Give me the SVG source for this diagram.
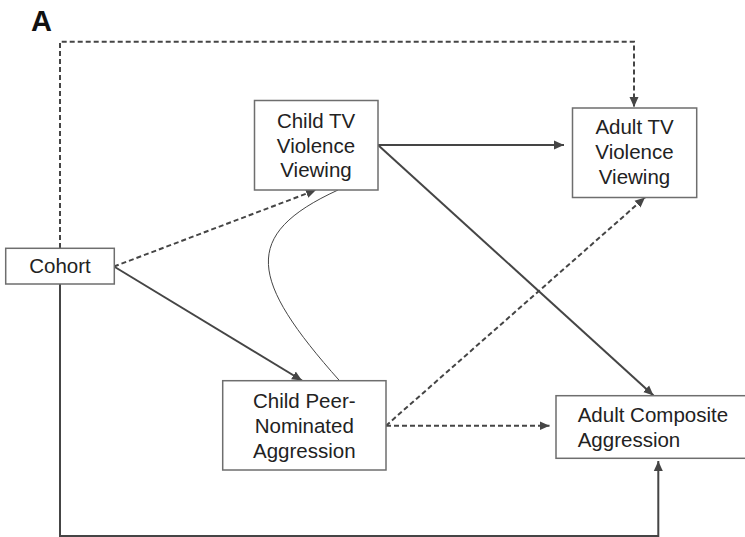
<svg xmlns="http://www.w3.org/2000/svg" width="745" height="537" viewBox="0 0 745 537">
<style>
.box{fill:#fff;stroke:#6e6e6e;stroke-width:1.5}
.t{font-family:"Liberation Sans",Arial,sans-serif;font-size:20.5px;fill:#222}
.c{text-anchor:middle}
.ln{fill:none;stroke:#454545;stroke-width:2}
.ds{fill:none;stroke:#454545;stroke-width:2;stroke-dasharray:5,3}
.thin{fill:none;stroke:#454545;stroke-width:1}
</style>
<defs>
<marker id="ah" viewBox="0 0 10 10" refX="10" refY="5" markerWidth="10" markerHeight="10" markerUnits="userSpaceOnUse" orient="auto">
<path d="M0,0.5 L10,5 L0,9.5 Z" fill="#454545"/>
</marker>
</defs>
<rect width="745" height="537" fill="#fff"/>
<text x="31" y="30.7" style="font-family:'Liberation Sans',Arial,sans-serif;font-size:29px;font-weight:bold;fill:#111">A</text>
<g id="connectors">
<path class="ds" d="M60,248 V41.7 H634 V107" marker-end="url(#ah)"/>
<path class="ds" d="M114,266.5 L316,190" marker-end="url(#ah)"/>
<path class="ln" d="M114,266.5 L302,380.5" marker-end="url(#ah)"/>
<path class="ln" d="M60,284 V536 H658.3 V461" marker-end="url(#ah)"/>
<path class="ln" d="M378,145 L564,145" marker-end="url(#ah)"/>
<path class="ln" d="M378,145 L653.5,395.5" marker-end="url(#ah)"/>
<path class="ds" d="M386,425.7 L645,197.5" marker-end="url(#ah)"/>
<path class="ds" d="M386,425.7 L549.5,425.7" marker-end="url(#ah)"/>
<path class="thin" d="M338,190 C240,235 250,280 339.5,380.7"/>
</g>
<g id="cohort">
<rect class="box" x="5.7" y="248.3" width="108.6" height="35.7"/>
<text class="t c" x="60" y="273.3">Cohort</text>
</g>
<g id="child-tv">
<rect class="box" x="254.5" y="100.5" width="123.5" height="89.5"/>
<text class="t c" x="316" y="127.7">Child TV</text>
<text class="t c" x="316" y="152.5">Violence</text>
<text class="t c" x="316" y="177.3">Viewing</text>
</g>
<g id="adult-tv">
<rect class="box" x="572.5" y="108" width="124.2" height="89.5"/>
<text class="t c" x="634.5" y="134">Adult TV</text>
<text class="t c" x="634.5" y="159">Violence</text>
<text class="t c" x="634.5" y="184">Viewing</text>
</g>
<g id="child-peer">
<rect class="box" x="222.7" y="380.7" width="163.3" height="89.3"/>
<text class="t c" x="304.3" y="408.3">Child Peer-</text>
<text class="t c" x="304.3" y="433">Nominated</text>
<text class="t c" x="304.3" y="458">Aggression</text>
</g>
<g id="adult-composite">
<rect class="box" x="556" y="395.7" width="200" height="62.6"/>
<text class="t" x="577.7" y="422.3">Adult Composite</text>
<text class="t" x="577.7" y="447.3">Aggression</text>
</g>
</svg>
